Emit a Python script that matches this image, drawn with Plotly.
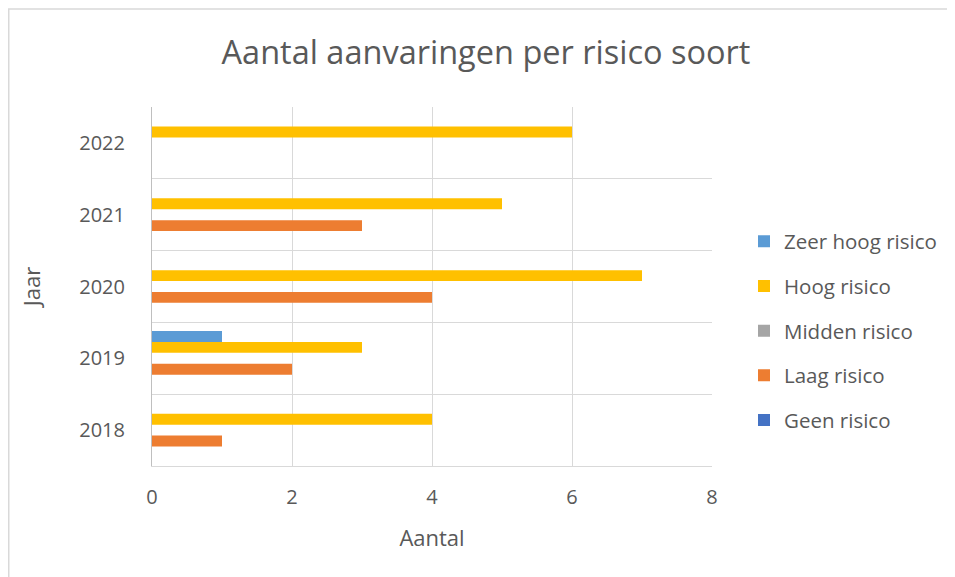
import plotly.graph_objects as go

years = ["2018", "2019", "2020", "2021", "2022"]
series_names = ["Geen risico", "Laag risico", "Midden risico", "Hoog risico", "Zeer hoog risico"]
geen = [0, 0, 0, 0, 0]
laag = [1, 2, 4, 3, 0]
midden = [0, 0, 0, 0, 0]
hoog = [4, 3, 7, 5, 6]
zeer_hoog = [0, 1, 0, 0, 0]
colors = ["#4472C4", "#ED7D31", "#A5A5A5", "#FFC000", "#5B9BD5"]
x_ticks = [0, 2, 4, 6, 8]

FONT = "Open Sans"
TXT = "#595959"

fig = go.Figure()
n = len(series_names)
for i, (name, vals, col) in enumerate(zip(series_names, [geen, laag, midden, hoog, zeer_hoog], colors)):
    fig.add_trace(go.Bar(
        y=years, x=vals, name=name, orientation="h",
        marker=dict(color=col, line=dict(width=0)),
        legendgroup=name, legendrank=n - i,
    ))

OFF = 8  # page body margin
W, H = 955, 577
# target plot-area edges in page pixels
PL, PR, PT, PB = 152, 712, 107, 466
L, R, T, B = PL - OFF, PR - OFF, PT - OFF, PB - OFF
pw, ph = R - L, B - T

fig.update_layout(
    width=W, height=H,
    margin=dict(l=L, r=W - R, t=T, b=H - B, autoexpand=False),
    paper_bgcolor="white", plot_bgcolor="white",
    barmode="group", bargap=0.24, bargroupgap=0,
    font=dict(family=FONT, color=TXT, size=20),
    title=dict(text="Aantal aanvaringen per risico soort", x=(486 - OFF) / W, xanchor="center",
               y=1 - (53 - OFF) / H, yanchor="middle",
               font=dict(family=FONT, size=32.5, color=TXT)),
    legend=dict(traceorder="grouped", x=(744 - OFF - L) / pw, y=(B - (331 - OFF)) / ph,
                yanchor="middle", xanchor="left",
                font=dict(family=FONT, size=20.5, color=TXT), tracegroupgap=15,
                itemwidth=30, bgcolor="rgba(0,0,0,0)"),
    xaxis=dict(range=[0, 8], tickvals=x_ticks, showgrid=True, gridcolor="#D9D9D9", gridwidth=1,
               zeroline=False, showline=True, linecolor="#D9D9D9", linewidth=1,
               ticks="outside", ticklen=13, tickcolor="rgba(0,0,0,0)",
               tickfont=dict(size=20, color=TXT),
               title=dict(text="Aantal", font=dict(size=22, color=TXT), standoff=21)),
    yaxis=dict(type="category", tickson="boundaries", showgrid=True, gridcolor="#D9D9D9",
               gridwidth=1, showline=True, linecolor="#BFBFBF", linewidth=1,
               ticks="", ticklabelstandoff=22,
               tickfont=dict(size=20, color=TXT),
               title=dict(text="Jaar", font=dict(size=22, color=TXT), standoff=32)),
    showlegend=True,
)

# outer chart border
bx0, by0 = 8 - OFF, 9 - OFF
fig.add_shape(type="rect", xref="paper", yref="paper",
              x0=(bx0 + 0.75 - L) / pw, x1=(W + 20 - L) / pw,
              y0=-(H + 20 - B) / ph, y1=(B - by0) / ph,
              line=dict(color="#D9D9D9", width=1.5), fillcolor="rgba(0,0,0,0)", layer="below")

fig.write_html("out.html")
